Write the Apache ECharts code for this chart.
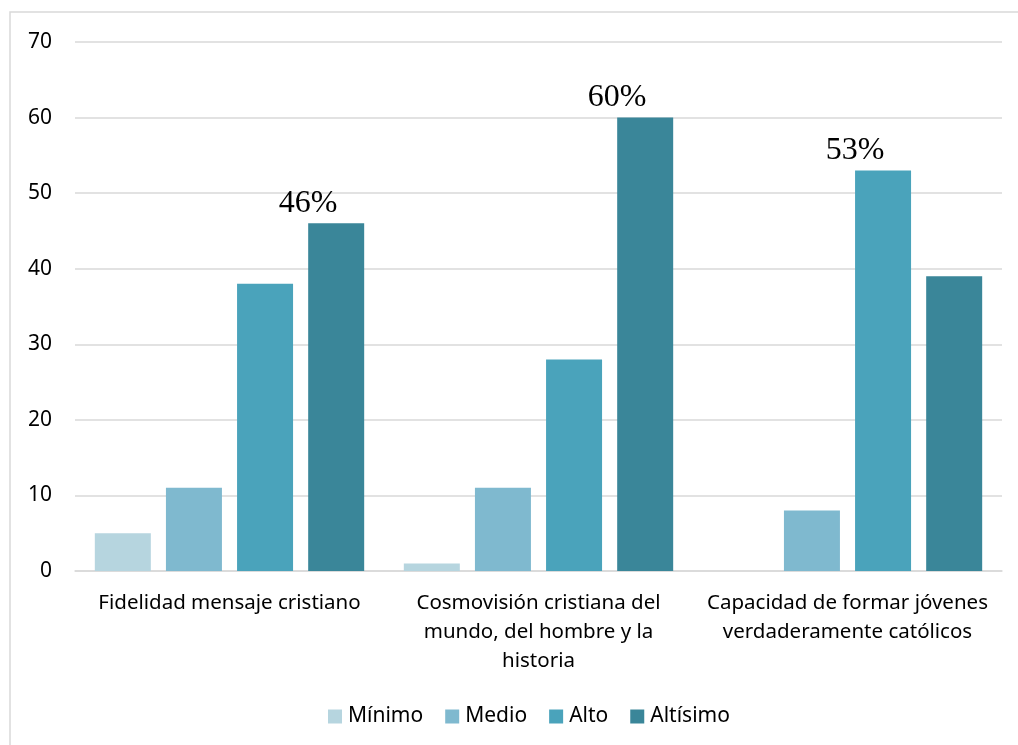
<!DOCTYPE html>
<html><head><meta charset="utf-8">
<script src="https://cdn.jsdelivr.net/npm/echarts@6/dist/echarts.min.js"></script>
<style>html,body{margin:0;padding:0;background:#fff}#c{width:1018px;height:745px}</style>
</head><body><div id="c"></div>
<script>
const categories = ["Fidelidad mensaje cristiano", "Cosmovisión cristiana del\nmundo, del hombre y la\nhistoria", "Capacidad de formar jóvenes\nverdaderamente católicos"];
const seriesNames = ["Mínimo", "Medio", "Alto", "Altísimo"];
const minimo = [5, 1, 0];
const medio = [11, 11, 8];
const alto = [38, 28, 53];
const altisimo = [46, 60, 39];
const yTicks = [0, 10, 20, 30, 40, 50, 60, 70];
const pctLabels = ["46%", "60%", "53%"];
const pctSeries = [3, 3, 2];
const colors = ["#b6d5df", "#7fb9cf", "#4aa3bb", "#3a8699"];

const values = [minimo, medio, alto, altisimo];
const chart = echarts.init(document.getElementById('c'));
const series = values.map((arr, si) => ({
  name: seriesNames[si],
  type: 'bar',
  barWidth: 56,
  barGap: '27%',
  itemStyle: { color: colors[si] },
  data: arr.map((v, ci) => {
    const item = { value: v };
    if (pctSeries[ci] === si) {
      item.label = {
        show: true, position: 'top', distance: 4, offset: [-28, 0],
        formatter: pctLabels[ci],
        fontFamily: 'Liberation Serif, Times New Roman, serif', fontSize: 32, color: '#000'
      };
    }
    return item;
  })
}));
chart.setOption({
  animation: false,
  color: colors,
  graphic: [{ type: 'rect', shape: { x: 10, y: 12, width: 1020, height: 740 }, style: { fill: 'none', stroke: '#d9d9d9', lineWidth: 1.5 }, silent: true }],
  grid: { left: 75, right: 16, top: 42, bottom: 174 },
  legend: {
    top: 701, left: 323, itemWidth: 14, itemHeight: 14, itemGap: 22,
    icon: 'rect',
    textStyle: { fontFamily: 'Noto Sans', fontSize: 21, color: '#000', padding: [0, 0, 0, 1] },
    data: seriesNames
  },
  xAxis: {
    type: 'category', data: categories,
    axisLine: { lineStyle: { color: '#d9d9d9', width: 1.5 } },
    axisTick: { show: false },
    axisLabel: { fontFamily: 'Noto Sans', fontSize: 20.5, color: '#000', lineHeight: 29, margin: 18, interval: 0 }
  },
  yAxis: {
    type: 'value', min: yTicks[0], max: yTicks[yTicks.length - 1], interval: 10,
    axisLine: { show: false }, axisTick: { show: false },
    splitLine: { lineStyle: { color: '#d9d9d9', width: 1.5 } },
    axisLabel: { fontFamily: 'Noto Sans', fontSize: 21, color: '#000', margin: 23 }
  },
  series: series
});
</script></body></html>
